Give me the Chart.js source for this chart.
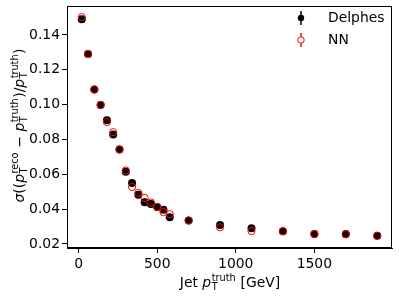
<!DOCTYPE html>
<html>
<head>
<meta charset="utf-8">
<script src="https://cdn.jsdelivr.net/npm/chart.js@4"></script>
<style>
  html, body { margin: 0; padding: 0; background: #fff; }
  #wrap { width: 399px; height: 298px; }
</style>
</head>
<body>
<div id="wrap"><canvas id="chart" width="399" height="298"></canvas></div>
<script>
// jet pT truth bins (GeV)
const ptTruth = [20, 60, 100, 140, 180, 220, 260, 300, 340, 380, 420, 460, 500, 540, 580, 700, 900, 1100, 1300, 1500, 1700, 1900];
// resolution from Delphes
const delphesRes = [0.1490, 0.1290, 0.1087, 0.0998, 0.0910, 0.0829, 0.0743, 0.0615, 0.0550, 0.0482, 0.0440, 0.0429, 0.0413, 0.0396, 0.0354, 0.0335, 0.0309, 0.0290, 0.0273, 0.0257, 0.0258, 0.0247];
// resolution from NN
const nnRes = [0.1502, 0.1290, 0.1087, 0.0998, 0.0900, 0.0842, 0.0743, 0.0622, 0.0527, 0.0493, 0.0465, 0.0438, 0.0413, 0.0383, 0.0371, 0.0335, 0.0296, 0.0274, 0.0273, 0.0257, 0.0255, 0.0247];
const xTicks = [0, 500, 1000, 1500];
const yTicks = [0.02, 0.04, 0.06, 0.08, 0.10, 0.12, 0.14];

const FONT = 'DejaVu Sans';
const FS = 13.9;

// draw a line of "mathtext" made of parts: {t, i, sub, sup}
function mathWidth(ctx, parts) {
  let w = 0;
  parts.forEach(p => {
    ctx.font = (p.i ? 'italic ' : '') + FS + 'px ' + FONT;
    w += ctx.measureText(p.t).width;
    if (p.sub || p.sup) {
      ctx.font = (FS * 0.7) + 'px ' + FONT;
      w += Math.max(p.sub ? ctx.measureText(p.sub).width : 0, p.sup ? ctx.measureText(p.sup).width : 0);
    }
  });
  return w;
}
function drawMath(ctx, parts, cx, y) {
  let x = cx - mathWidth(ctx, parts) / 2;
  ctx.textBaseline = 'alphabetic';
  ctx.textAlign = 'left';
  parts.forEach(p => {
    ctx.font = (p.i ? 'italic ' : '') + FS + 'px ' + FONT;
    ctx.fillText(p.t, x, y);
    x += ctx.measureText(p.t).width;
    if (p.sub || p.sup) {
      ctx.font = (FS * 0.7) + 'px ' + FONT;
      let sw = 0;
      if (p.sub) { ctx.fillText(p.sub, x + 0.5, y + FS * 0.22); sw = ctx.measureText(p.sub).width; }
      if (p.sup) { ctx.fillText(p.sup, x + 0.5, y - FS * 0.45); sw = Math.max(sw, ctx.measureText(p.sup).width); }
      x += sw + 1;
    }
  });
}

const yTitle = [
  { t: 'σ', i: true }, { t: '((' },
  { t: 'p', i: true, sub: 'T', sup: 'reco' }, { t: ' − ' },
  { t: 'p', i: true, sub: 'T', sup: 'truth' }, { t: ')/' },
  { t: 'p', i: true, sub: 'T', sup: 'truth' }, { t: ')' }
];
const xTitle = [{ t: 'Jet ' }, { t: 'p', i: true, sub: 'T', sup: 'truth' }, { t: ' [GeV]' }];

const decor = {
  id: 'decor',
  afterDraw(chart) {
    const ctx = chart.ctx;
    const a = chart.chartArea;
    ctx.save();
    // frame
    ctx.strokeStyle = '#000';
    ctx.lineWidth = 1;
    ctx.strokeRect(a.left + 0.5, a.top + 0.5, a.right - a.left - 1, a.bottom - a.top - 1);
    ctx.fillStyle = '#000';
    drawMath(ctx, xTitle, (a.left + a.right) / 2, 287);
    ctx.save();
    ctx.translate(24, (a.top + a.bottom) / 2);
    ctx.rotate(-Math.PI / 2);
    drawMath(ctx, yTitle, 0, 0);
    ctx.restore();

    // legend (no frame)
    const items = [
      { label: 'Delphes', color: '#000', filled: true, y: 18 },
      { label: 'NN', color: '#ff0000', filled: false, y: 40 }
    ];
    items.forEach(it => {
      ctx.strokeStyle = it.color;
      ctx.lineWidth = 1.5;
      ctx.beginPath();
      ctx.moveTo(301, it.y - 7);
      ctx.lineTo(301, it.y + 7);
      ctx.stroke();
      ctx.beginPath();
      ctx.arc(301, it.y, 3.2, 0, Math.PI * 2);
      if (it.filled) { ctx.fillStyle = it.color; ctx.fill(); }
      else { ctx.fillStyle = '#fff'; ctx.fill(); ctx.lineWidth = 1; ctx.stroke(); }
      ctx.fillStyle = '#000';
      ctx.font = FS + 'px ' + FONT;
      ctx.textAlign = 'left';
      ctx.textBaseline = 'middle';
      ctx.fillText(it.label, 328, it.y);
    });
    ctx.restore();
  }
};

const ctx = document.getElementById('chart').getContext('2d');
new Chart(ctx, {
  type: 'scatter',
  data: {
    datasets: [
      {
        label: 'Delphes',
        data: ptTruth.map((x, i) => ({ x: x, y: delphesRes[i] })),
        backgroundColor: '#000',
        borderColor: '#000',
        pointRadius: 4,
        borderWidth: 0,
        order: 2
      },
      {
        label: 'NN',
        data: ptTruth.map((x, i) => ({ x: x, y: nnRes[i] })),
        backgroundColor: 'rgba(0,0,0,0)',
        borderColor: '#ff0000',
        pointRadius: 3.6,
        borderWidth: 1,
        order: 1
      }
    ]
  },
  options: {
    responsive: false,
    animation: false,
    layout: { padding: { top: 6, right: 7, left: 0, bottom: 0 } },
    plugins: { legend: { display: false }, tooltip: { enabled: false } },
    scales: {
      x: {
        type: 'linear',
        min: -74,
        max: 1994,
        afterBuildTicks: s => { s.ticks = xTicks.map(v => ({ value: v })); },
        afterFit: s => { s.height = 50; s.paddingLeft = 0; s.paddingRight = 0; },
        grid: { drawOnChartArea: false, drawTicks: true, tickLength: 5, tickColor: '#000' },
        border: { display: true, color: '#000' },
        ticks: { color: '#000', font: { family: FONT, size: FS }, padding: 3, maxRotation: 0, callback: v => String(v) }
      },
      y: {
        min: 0.0177,
        max: 0.1566,
        afterBuildTicks: s => { s.ticks = yTicks.map(v => ({ value: v })); },
        afterFit: s => { s.width = 67; s.paddingTop = 0; s.paddingBottom = 0; },
        grid: { drawOnChartArea: false, drawTicks: true, tickLength: 5, tickColor: '#000' },
        border: { display: true, color: '#000' },
        ticks: { color: '#000', font: { family: FONT, size: FS }, padding: 2, callback: v => v.toFixed(2) }
      }
    }
  },
  plugins: [decor]
});
</script>
</body>
</html>
